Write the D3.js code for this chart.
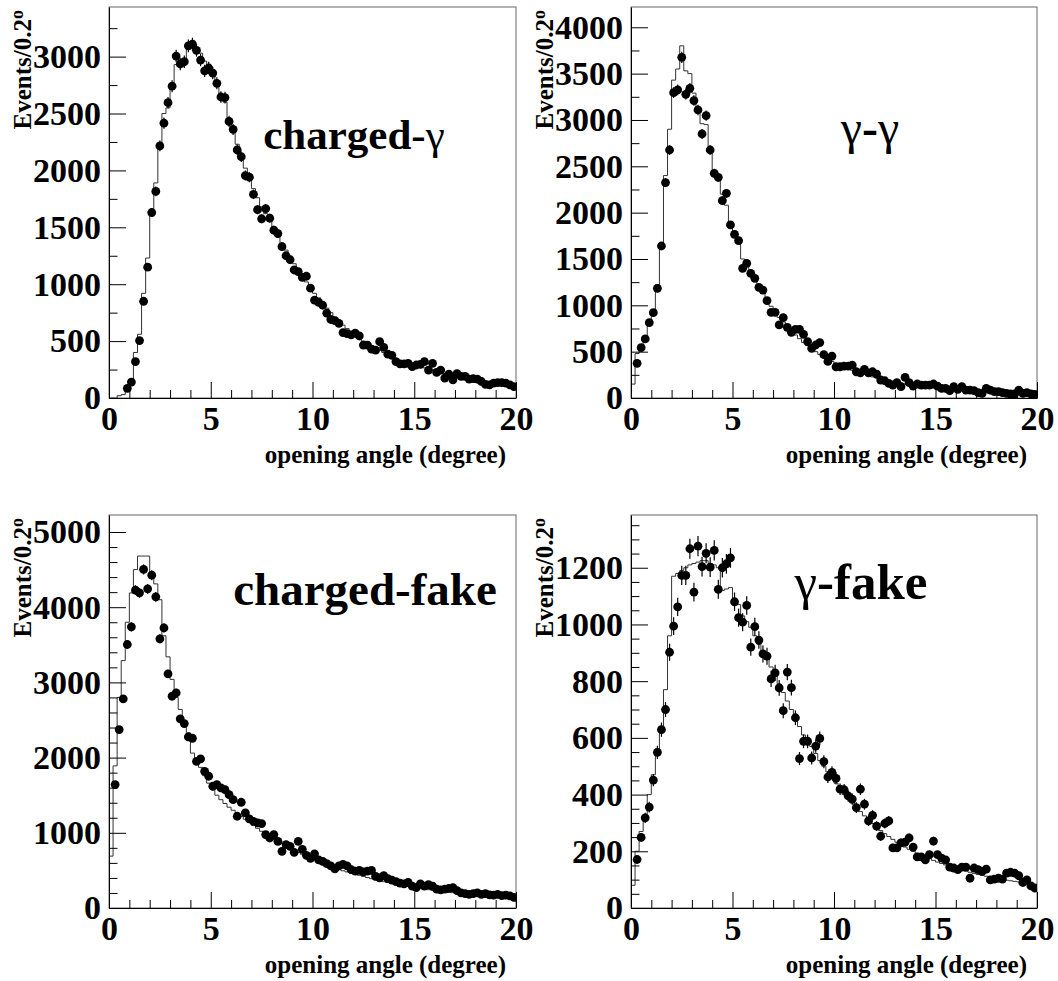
<!DOCTYPE html>
<html>
<head>
<meta charset="utf-8">
<script src="https://cdn.jsdelivr.net/npm/d3@7"></script>
<style>
  body { margin: 0; background: #fff; }
  svg text { font-family: 'Liberation Serif', 'Times New Roman', serif; font-weight: bold; fill: #000; }
  svg text tspan.greek { font-weight: normal; }
</style>
</head>
<body>
<svg id="chart" width="1058" height="981"></svg>
<script>
// Opening-angle distributions, 100 bins of 0.2 degree from 0 to 20.
const binWidth = 0.2;
const xRange = [0, 20];
const xMajorTicks = [0, 5, 10, 15, 20];
const xMinorTicks = [1, 2, 3, 4, 6, 7, 8, 9, 11, 12, 13, 14, 16, 17, 18, 19];

// charged-gamma: data points and simulation histogram
const chargedGammaData = [null, null, null, null, 85, 140, 320, 505, 850, 1150,
  1630, 1815, 2215, 2415, 2595, 2740, 3005, 2935, 2955, 3095,
  3110, 3055, 2970, 2875, 2900, 2855, 2765, 2645, 2640, 2430,
  2360, 2180, 2120, 1955, 1940, 1790, 1655, 1575, 1665, 1580,
  1475, 1445, 1330, 1250, 1215, 1125, 1110, 1060, 1070, 965,
  860, 840, 815, 745, 690, 680, 655, 575, 565, 555,
  570, 545, 465, 465, 430, 420, 495, 445, 385, 375,
  320, 300, 300, 305, 275, 290, 295, 320, 245, 305,
  225, 245, 175, 210, 160, 215, 190, 190, 165, 170,
  165, 145, 120, 115, 130, 135, 135, 130, 115, 100];
const chargedGammaMC = [0, 0, 20, 30, 60, 130, 400, 560, 920, 1230,
  1650, 1890, 2200, 2500, 2550, 2720, 2930, 2970, 2980, 3090,
  3090, 3080, 3030, 2960, 2900, 2830, 2750, 2660, 2600, 2460,
  2350, 2230, 2140, 2020, 1930, 1840, 1760, 1680, 1620, 1560,
  1490, 1430, 1360, 1300, 1240, 1180, 1120, 1070, 1020, 970,
  920, 880, 840, 790, 750, 710, 680, 640, 610, 580,
  560, 530, 500, 480, 460, 440, 420, 400, 380, 365,
  345, 330, 315, 305, 295, 285, 275, 265, 255, 245,
  235, 225, 215, 205, 198, 190, 182, 176, 170, 164,
  158, 152, 146, 140, 135, 130, 125, 120, 116, 112];
const chargedGammaYTicks = [0, 500, 1000, 1500, 2000, 2500, 3000];
const chargedGammaYMinor = [250, 750, 1250, 1750, 2250, 2750, 3250];

// gamma-gamma
const gammaGammaData = [null, 374, 543, 637, 813, 921, 1183, 1640, 2324, 2676,
  3295, 3324, 3676, 3277, 3342, 3209, 3108, 2849, 3047, 2676,
  2424, 2381, 2129, 2208, 1867, 1766, 1698, 1399, 1453, 1345,
  1291, 1194, 1165, 1050, 924, 924, 788, 867, 763, 709,
  741, 741, 687, 608, 536, 572, 598, 468, 395, 452,
  337, 337, 344, 344, 355, 283, 272, 308, 272, 283,
  258, 194, 186, 158, 140, 165, 122, 222, 165, 129,
  151, 140, 140, 140, 151, 129, 104, 104, 79, 122,
  93, 122, 86, 86, 79, 57, 50, 104, 86, 68,
  68, 57, 50, 43, 43, 86, 50, 57, 45, 40];
const gammaGammaMC = [150, 480, 560, 640, 790, 920, 1220, 1640, 2400, 2900,
  3430, 3550, 3800, 3530, 3500, 3290, 3070, 2960, 2950, 2710,
  2460, 2350, 2200, 2080, 1900, 1800, 1700, 1500, 1420, 1340,
  1270, 1200, 1130, 1060, 990, 930, 870, 820, 770, 720,
  680, 640, 600, 565, 530, 500, 470, 445, 420, 395,
  370, 350, 330, 315, 300, 285, 270, 255, 240, 228,
  216, 205, 195, 185, 176, 168, 160, 152, 145, 138,
  132, 126, 120, 115, 110, 105, 100, 96, 92, 88,
  85, 82, 79, 76, 73, 70, 68, 66, 64, 62,
  60, 58, 56, 54, 52, 50, 48, 47, 46, 45];
const gammaGammaYTicks = [0, 500, 1000, 1500, 2000, 2500, 3000, 3500, 4000];
const gammaGammaYMinor = [250, 750, 1250, 1750, 2250, 2750, 3250, 3750];

// charged-fake
const chargedFakeData = [null, 1641, 2373, 2781, 3504, 3739, 4227, 4191, 4502, 4244,
  4426, 4138, 3579, 3725, 3113, 2816, 2861, 2515, 2453, 2275,
  2257, 1951, 1982, 1818, 1752, 1619, 1641, 1597, 1574, 1508,
  1441, 1220, 1406, 1264, 1184, 1153, 1131, 1122, 976, 931,
  976, 887, 754, 843, 820, 741, 887, 780, 700, 660,
  720, 640, 620, 590, 560, 520, 560, 580, 560, 510,
  490, 500, 480, 490, 500, 420, 400, 430, 390, 370,
  350, 330, 320, 340, 290, 270, 320, 290, 310, 290,
  250, 240, 250, 260, 270, 230, 200, 190, 180, 190,
  200, 180, 190, 175, 170, 180, 165, 170, 160, 140];
const chargedFakeMC = [690, 1890, 2800, 3290, 3800, 4190, 4500, 4680, 4680, 4680,
  4410, 4310, 4100, 3620, 3340, 3040, 2800, 2640, 2470, 2330,
  2060, 1960, 1870, 1760, 1660, 1570, 1500, 1440, 1390, 1340,
  1300, 1260, 1220, 1180, 1140, 1100, 1060, 1020, 980, 950,
  920, 890, 860, 830, 800, 770, 740, 715, 690, 665,
  640, 615, 590, 570, 550, 530, 510, 495, 480, 465,
  450, 435, 420, 405, 390, 375, 362, 350, 338, 326,
  315, 305, 295, 286, 277, 268, 260, 252, 244, 237,
  230, 223, 216, 210, 204, 198, 192, 187, 182, 177,
  172, 168, 164, 160, 156, 152, 148, 145, 142, 139];
const chargedFakeYTicks = [0, 1000, 2000, 3000, 4000, 5000];
const chargedFakeYMinor = [200, 400, 600, 800, 1200, 1400, 1600, 1800, 2200, 2400, 2600, 2800,
  3200, 3400, 3600, 3800, 4200, 4400, 4600, 4800];

// gamma-fake
const gammaFakeData = [null, 171, 249, 318, 356, 451, 549, 629, 700, 902,
  994, 1062, 1173, 1173, 1267, 1114, 1276, 1204, 1251, 1202,
  1261, 1124, 1200, 1214, 1235, 1080, 1024, 1008, 1067, 920,
  992, 945, 896, 888, 808, 829, 776, 696, 832, 777,
  671, 527, 588, 588, 529, 571, 598, 516, 462, 478,
  457, 419, 417, 395, 384, 354, 419, 366, 307, 327,
  289, 253, 298, 307, 212, 212, 230, 232, 247, 215,
  180, 180, 170, 188, 236, 188, 176, 170, 144, 141,
  135, 144, 144, 105, 141, 135, 129, 137, 99, 102,
  105, 102, 123, 126, 123, 114, 90, 99, 78, 70];
const gammaFakeMC = [80, 200, 270, 330, 400, 470, 560, 640, 770, 960,
  1170, 1180, 1190, 1200, 1210, 1215, 1220, 1225, 1225, 1215,
  1210, 1200, 1120, 1125, 1130, 1080, 1070, 1030, 1010, 990,
  960, 930, 900, 880, 850, 820, 790, 760, 730, 700,
  670, 640, 610, 590, 570, 545, 520, 500, 480, 460,
  440, 420, 400, 385, 370, 355, 340, 325, 310, 298,
  285, 273, 262, 252, 242, 232, 223, 215, 207, 200,
  193, 186, 180, 174, 168, 162, 157, 152, 147, 142,
  138, 134, 130, 126, 122, 118, 115, 112, 109, 106,
  103, 100, 98, 96, 94, 92, 90, 88, 86, 84];
const gammaFakeYTicks = [0, 200, 400, 600, 800, 1000, 1200];
const gammaFakeYMinor = [50, 100, 150, 250, 300, 350, 450, 500, 550, 650, 700, 750,
  850, 900, 950, 1050, 1100, 1150, 1250, 1300, 1350];

const xTitle = "opening angle (degree)";

// Pad layout for the 2x2 grid; titles are split so the Greek letters keep a regular weight
const panels = [
  { title: ["charged-", "γ"], data: chargedGammaData, mc: chargedGammaMC, yMax: 3436,
    yTicks: chargedGammaYTicks, yMinor: chargedGammaYMinor,
    left: 109, top: 7, width: 407, height: 391, titleX: 354, titleY: 149, titleSize: 43 },
  { title: ["γ", "-", "γ"], data: gammaGammaData, mc: gammaGammaMC, yMax: 4219,
    yTicks: gammaGammaYTicks, yMinor: gammaGammaYMinor,
    left: 631, top: 7, width: 406, height: 391, titleX: 870, titleY: 144, titleSize: 48 },
  { title: ["charged-fake"], data: chargedFakeData, mc: chargedFakeMC, yMax: 5226,
    yTicks: chargedFakeYTicks, yMinor: chargedFakeYMinor,
    left: 109, top: 515, width: 407, height: 393, titleX: 365, titleY: 605, titleSize: 47 },
  { title: ["γ", "-fake"], data: gammaFakeData, mc: gammaFakeMC, yMax: 1386,
    yTicks: gammaFakeYTicks, yMinor: gammaFakeYMinor,
    left: 631, top: 515, width: 406, height: 393, titleX: 861, titleY: 599, titleSize: 51 }
];

const tickFont = 34;
const svg = d3.select("#chart");

panels.forEach((p, k) => {
  const g = svg.append("g").attr("transform", `translate(${p.left},${p.top})`);
  const x = d3.scaleLinear().domain(xRange).range([0, p.width]);
  const y = d3.scaleLinear().domain([0, p.yMax]).range([p.height, 0]);

  const clipId = "clip" + k;
  g.append("clipPath").attr("id", clipId)
    .append("rect").attr("width", p.width).attr("height", p.height);

  // frame
  g.append("rect").attr("width", p.width).attr("height", p.height)
    .attr("fill", "none").attr("stroke", "#666").attr("stroke-width", 1);

  const plot = g.append("g").attr("clip-path", `url(#${clipId})`);

  // simulation histogram as a step outline
  const steps = [[0, 0]].concat(p.mc.map((v, i) => [i * binWidth, v]), [[xRange[1], p.mc[p.mc.length - 1]]]);
  plot.append("path")
    .attr("d", d3.line().x(d => x(d[0])).y(d => y(d[1])).curve(d3.curveStepAfter)(steps))
    .attr("fill", "none").attr("stroke", "#333").attr("stroke-width", 1);

  // data points with statistical error bars
  const pts = p.data.map((v, i) => ({ c: (i + 0.5) * binWidth, v })).filter(d => d.v !== null);
  plot.selectAll("line.err").data(pts).join("line").attr("class", "err")
    .attr("x1", d => x(d.c)).attr("x2", d => x(d.c))
    .attr("y1", d => y(d.v - Math.sqrt(d.v))).attr("y2", d => y(d.v + Math.sqrt(d.v)))
    .attr("stroke", "#000").attr("stroke-width", 1.2);
  plot.selectAll("circle").data(pts).join("circle")
    .attr("cx", d => x(d.c)).attr("cy", d => y(d.v)).attr("r", 4.4).attr("fill", "#000");

  // axes: ticks point into the frame
  const yAx = g.append("g").call(d3.axisLeft(y).tickValues(p.yTicks).tickSize(-17).tickSizeOuter(0)
      .tickPadding(8).tickFormat(d3.format("d")));
  yAx.selectAll("text").style("font-size", tickFont + "px");
  g.append("g").call(d3.axisLeft(y).tickValues(p.yMinor).tickSize(-8.5).tickFormat(""))
    .select(".domain").remove();

  const xAx = g.append("g").attr("transform", `translate(0,${p.height})`)
    .call(d3.axisBottom(x).tickValues(xMajorTicks).tickSize(-16).tickSizeOuter(0)
      .tickPadding(8).tickFormat(d3.format("d")));
  xAx.selectAll("text").style("font-size", tickFont + "px");
  g.append("g").attr("transform", `translate(0,${p.height})`)
    .call(d3.axisBottom(x).tickValues(xMinorTicks).tickSize(-8).tickFormat(""))
    .select(".domain").remove();

  g.selectAll(".tick line").attr("stroke", "#000");
  g.selectAll(".domain").attr("stroke", "#000");

  // axis titles
  g.append("text").attr("x", p.width - 10).attr("y", p.height + 65)
    .attr("text-anchor", "end").style("font-size", "25px").text(xTitle);
  const yt = g.append("text")
    .attr("transform", `translate(${-78},${3}) rotate(-90)`)
    .attr("text-anchor", "end").style("font-size", "25px");
  yt.append("tspan").text("Events/0.2");
  yt.append("tspan").attr("dy", "-0.45em").style("font-size", "18px").text("o");

  // panel label
  const t = svg.append("text").attr("x", p.titleX).attr("y", p.titleY)
    .attr("text-anchor", "middle").style("font-size", p.titleSize + "px");
  p.title.forEach(part => {
    t.append("tspan").attr("class", part === "γ" ? "greek" : null).text(part);
  });
});
</script>
</body>
</html>
